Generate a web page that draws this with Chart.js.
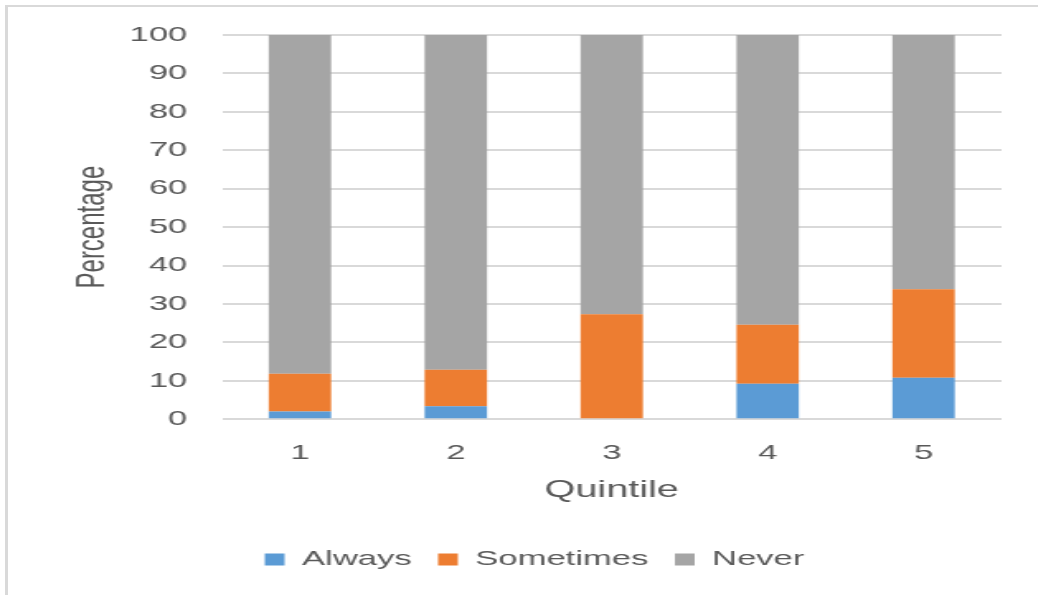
<!DOCTYPE html>
<html>
<head>
<meta charset="utf-8">
<script src="https://cdn.jsdelivr.net/npm/chart.js@4.4.1/dist/chart.umd.min.js"></script>
<style>
  html, body { margin: 0; padding: 0; background: #fff; overflow: hidden; }
  #frame { position: absolute; left: 5px; top: 5px; width: 1100px; height: 700px;
           border-left: 3px solid #d9d9d9; border-top: 2px solid #d9d9d9; }
  #wrap { position: absolute; left: 0; top: 0; width: 629px; height: 595px;
          transform: scaleX(1.65); transform-origin: 0 0; }
</style>
</head>
<body>
<div id="frame"></div>
<div id="wrap"><canvas id="c"></canvas></div>
<script>
const categories = ['1', '2', '3', '4', '5'];
const always     = [2.0, 3.4, 0, 9.2, 10.8];
const sometimes  = [9.8, 9.5, 27.3, 15.4, 23.0];
const never      = [88.2, 87.1, 72.7, 75.4, 66.2];
const seriesNames = ['Always', 'Sometimes', 'Never'];

const textColor = '#595959';
const fontFamily = "'Liberation Sans', Arial, sans-serif";

new Chart(document.getElementById('c'), {
  type: 'bar',
  data: {
    labels: categories,
    datasets: [
      { label: seriesNames[0], data: always,    backgroundColor: '#5B9BD5' },
      { label: seriesNames[1], data: sometimes, backgroundColor: '#ED7D31' },
      { label: seriesNames[2], data: never,     backgroundColor: '#A5A5A5' }
    ]
  },
  options: {
    responsive: true,
    maintainAspectRatio: false,
    animation: false,
    datasets: { bar: { categoryPercentage: 1.0, barPercentage: 0.4 } },
    layout: { padding: { left: 41, right: 22, top: 35, bottom: 15 } },
    plugins: {
      tooltip: { enabled: false },
      legend: {
        position: 'bottom',
        labels: {
          color: textColor,
          font: { family: fontFamily, size: 21 },
          boxWidth: 12, boxHeight: 12, padding: 16
        }
      }
    },
    scales: {
      x: {
        stacked: true,
        grid: { display: false, drawTicks: false },
        border: { display: false },
        ticks: { color: textColor, font: { family: fontFamily, size: 21, lineHeight: 1.0 }, padding: 24 },
        title: { display: true, text: 'Quintile', color: textColor,
                 font: { family: fontFamily, size: 24, lineHeight: 0.2 }, padding: { top: 0, bottom: 40 } }
      },
      y: {
        stacked: true,
        min: 0, max: 100,
        afterFit: (s) => { s.width = 93.5; },
        grid: { color: '#d9d9d9', lineWidth: 2, drawTicks: false },
        border: { display: false },
        ticks: { stepSize: 10, color: textColor, font: { family: fontFamily, size: 21 }, padding: 21 },
        title: { display: true, text: 'Percentage', color: textColor,
                 font: { family: fontFamily, size: 24 }, padding: { top: 1, bottom: 0 } }
      }
    }
  }
});
</script>
</body>
</html>
